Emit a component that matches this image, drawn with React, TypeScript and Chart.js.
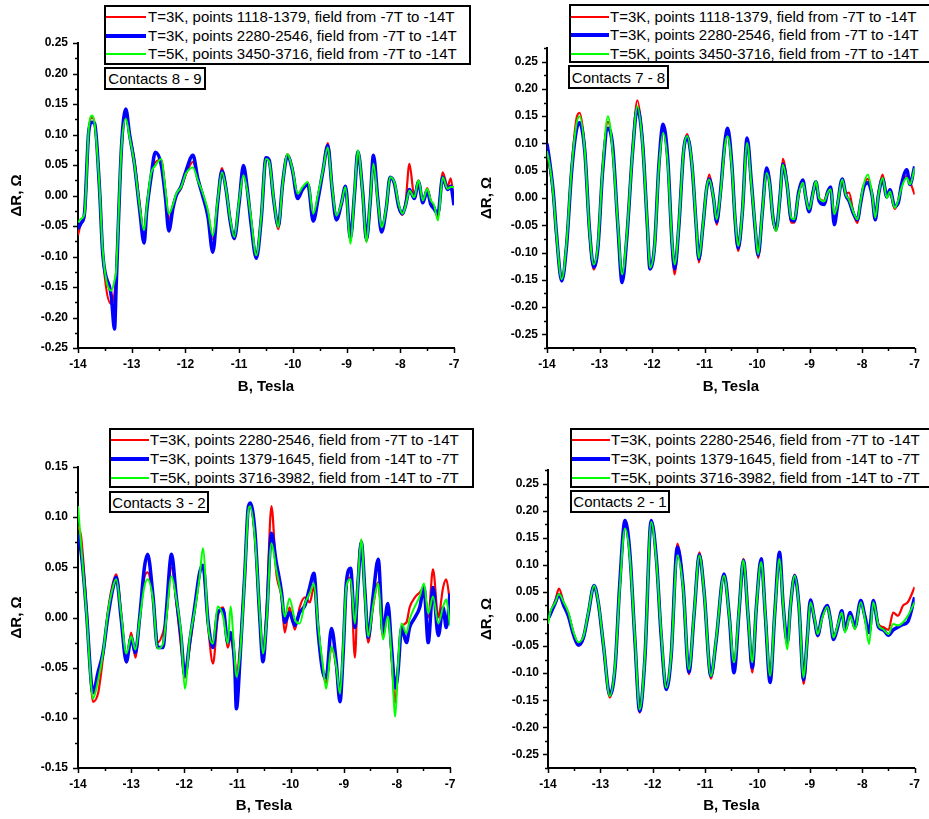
import React, { useEffect, useRef } from "react";
import { Chart, registerables } from "chart.js";
Chart.register(...registerables);

const FONT = "'Liberation Sans', Arial, Helvetica, sans-serif";

// ---------- tick labels ----------
const X_TICKS = [-14, -13, -12, -11, -10, -9, -8, -7];
const Y_TICKS_WIDE = [-0.25, -0.2, -0.15, -0.1, -0.05, 0, 0.05, 0.1, 0.15, 0.2, 0.25];
const Y_TICKS_NARROW = [-0.15, -0.1, -0.05, 0, 0.05, 0.1, 0.15];

// ---------- legend / annotation text ----------
const LEGEND_TOP = [
  "T=3K, points 1118-1379, field from -7T to -14T",
  "T=3K, points 2280-2546, field from -7T to -14T",
  "T=5K, points 3450-3716, field from -7T to -14T",
];
const LEGEND_BOTTOM = [
  "T=3K, points 2280-2546, field from -7T to -14T",
  "T=3K, points 1379-1645, field from -14T to -7T",
  "T=5K, points 3716-3982, field from -14T to -7T",
];
const CONTACTS = ["Contacts 8 - 9", "Contacts 7 - 8", "Contacts 3 - 2", "Contacts 2 - 1"];

// ---------- Panel 1: Contacts 8 - 9 ----------
const P1_B = [-14.00,-13.94,-13.88,-13.80,-13.74,-13.69,-13.60,-13.54,-13.38,-13.32,
 -13.29,-13.19,-13.11,-13.04,-12.95,-12.85,-12.77,-12.72,-12.64,-12.56,
 -12.45,-12.37,-12.31,-12.23,-12.17,-12.08,-11.99,-11.86,-11.77,-11.68,
 -11.58,-11.49,-11.40,-11.32,-11.24,-11.17,-11.09,-11.00,-10.92,-10.85,
 -10.78,-10.68,-10.59,-10.50,-10.44,-10.36,-10.27,-10.19,-10.10,-10.01,
 -9.91,-9.82,-9.72,-9.62,-9.53,-9.44,-9.35,-9.27,-9.19,-9.10,
 -9.02,-8.93,-8.85,-8.79,-8.70,-8.63,-8.56,-8.50,-8.42,-8.35,
 -8.26,-8.19,-8.11,-8.03,-7.96,-7.90,-7.83,-7.74,-7.66,-7.58,
 -7.50,-7.43,-7.37,-7.30,-7.21,-7.12,-7.06,-7.00];
const P1_GREEN = [-0.044,-0.038,-0.030,0.109,0.131,0.117,0.014,-0.090,-0.156,-0.139,
 -0.123,0.079,0.126,0.096,0.052,-0.019,-0.057,-0.019,0.036,0.049,
 0.060,0.008,-0.030,-0.014,0.003,0.014,0.036,0.046,0.025,0.005,
 -0.025,-0.066,-0.008,0.038,0.008,-0.036,-0.068,-0.008,0.033,0.008,
 -0.036,-0.098,-0.036,0.060,0.055,-0.003,-0.052,0.019,0.068,0.044,
 0.003,0.014,0.022,-0.030,0.003,0.041,0.079,0.014,-0.033,-0.014,
 0.014,-0.079,0.008,0.074,0.003,-0.077,-0.008,0.052,-0.008,-0.052,
 -0.019,0.030,0.022,-0.014,-0.030,-0.016,0.008,-0.003,0.025,-0.008,
 0.011,-0.008,-0.016,-0.041,0.030,0.011,0.014,0.014];
const P1_RED = [-0.065,-0.045,-0.035,0.105,0.128,0.118,0.015,-0.095,-0.178,-0.160,
 -0.125,0.075,0.130,0.100,0.058,-0.015,-0.068,-0.022,0.033,0.055,
 0.058,0.005,-0.040,-0.015,0.000,0.012,0.035,0.055,0.028,0.002,
 -0.030,-0.072,-0.010,0.045,0.010,-0.038,-0.072,-0.010,0.038,0.010,
 -0.040,-0.100,-0.035,0.062,0.055,-0.005,-0.055,0.018,0.068,0.045,
 -0.002,0.012,0.020,-0.038,0.000,0.040,0.086,0.015,-0.038,-0.015,
 0.012,-0.072,0.005,0.070,0.002,-0.075,-0.010,0.058,-0.005,-0.058,
 -0.020,0.028,0.020,-0.018,-0.032,-0.010,0.052,0.000,0.025,-0.010,
 0.012,-0.010,-0.018,-0.035,0.038,0.015,0.028,-0.012];
const P1_BLUE = [-0.055,-0.045,-0.030,0.105,0.120,0.118,0.012,-0.095,-0.165,-0.219,
 -0.150,0.080,0.142,0.100,0.052,-0.025,-0.078,-0.025,0.030,0.071,
 0.050,-0.005,-0.058,-0.020,0.000,0.015,0.040,0.066,0.028,0.000,
 -0.035,-0.093,-0.012,0.040,0.008,-0.040,-0.070,-0.012,0.049,0.012,
 -0.045,-0.103,-0.040,0.062,0.058,-0.005,-0.050,0.020,0.065,0.042,
 -0.005,0.010,0.018,-0.042,-0.005,0.040,0.082,0.012,-0.040,-0.015,
 0.015,-0.070,0.005,0.072,0.005,-0.072,-0.010,0.066,-0.005,-0.060,
 -0.020,0.030,0.020,-0.018,-0.030,-0.015,0.010,-0.005,0.022,-0.012,
 0.008,-0.015,-0.022,-0.030,0.030,0.010,0.015,-0.016];

// ---------- Panel 2: Contacts 7 - 8 ----------
const P2_B = [-14.00,-13.94,-13.88,-13.82,-13.72,-13.63,-13.53,-13.44,-13.38,-13.28,
 -13.19,-13.11,-13.03,-12.94,-12.84,-12.75,-12.65,-12.57,-12.48,-12.37,
 -12.28,-12.18,-12.09,-12.04,-11.95,-11.87,-11.79,-11.70,-11.62,-11.57,
 -11.49,-11.40,-11.33,-11.24,-11.16,-11.11,-11.03,-10.96,-10.91,-10.83,
 -10.77,-10.70,-10.61,-10.56,-10.48,-10.42,-10.36,-10.28,-10.19,-10.11,
 -10.04,-9.98,-9.90,-9.82,-9.76,-9.70,-9.64,-9.56,-9.51,-9.43,
 -9.35,-9.29,-9.21,-9.13,-9.07,-9.01,-8.94,-8.88,-8.82,-8.72,
 -8.66,-8.60,-8.53,-8.47,-8.38,-8.31,-8.25,-8.16,-8.09,-8.03,
 -7.97,-7.89,-7.81,-7.75,-7.69,-7.61,-7.53,-7.47,-7.38,-7.31,
 -7.25,-7.15,-7.09,-7.00];
const P2_GREEN = [0.086,0.055,0.006,-0.067,-0.149,-0.085,0.055,0.135,0.150,0.086,
 -0.061,-0.122,-0.085,0.055,0.150,0.086,-0.049,-0.140,-0.067,0.086,
 0.168,0.098,-0.049,-0.128,-0.085,0.055,0.119,0.061,-0.079,-0.122,
 -0.049,0.086,0.113,0.061,-0.049,-0.110,-0.049,0.019,0.034,0.000,
 -0.039,0.006,0.098,0.113,0.055,-0.036,-0.088,-0.024,0.101,0.025,
 -0.049,-0.103,-0.024,0.046,0.025,-0.036,-0.061,0.006,0.061,0.025,
 -0.036,-0.039,0.006,0.028,0.000,-0.021,0.006,0.031,0.000,-0.006,
 0.009,0.016,-0.030,-0.012,0.034,0.006,-0.003,-0.027,-0.039,-0.006,
 0.025,0.043,0.006,-0.036,0.006,0.037,0.000,0.012,-0.018,-0.003,
 0.019,0.037,0.025,0.055];
const P2_RED = [0.085,0.050,0.005,-0.070,-0.150,-0.088,0.058,0.145,0.156,0.090,
 -0.065,-0.131,-0.090,0.055,0.140,0.090,-0.050,-0.150,-0.070,0.090,
 0.179,0.105,-0.050,-0.130,-0.088,0.055,0.125,0.065,-0.085,-0.140,
 -0.050,0.085,0.117,0.062,-0.052,-0.118,-0.050,0.020,0.043,-0.002,
 -0.049,0.005,0.100,0.118,0.058,-0.040,-0.097,-0.025,0.105,0.025,
 -0.055,-0.110,-0.025,0.050,0.025,-0.038,-0.060,0.008,0.072,0.028,
 -0.045,-0.045,0.006,0.030,0.000,-0.025,0.010,0.030,0.000,-0.005,
 0.012,0.018,-0.040,-0.010,0.030,0.008,0.010,-0.030,-0.046,-0.008,
 0.022,0.035,0.005,-0.035,0.010,0.043,0.005,0.010,-0.020,-0.005,
 0.025,0.040,0.030,0.006];
const P2_BLUE = [0.100,0.060,0.010,-0.065,-0.152,-0.090,0.050,0.125,0.138,0.085,
 -0.060,-0.127,-0.090,0.050,0.128,0.095,-0.052,-0.155,-0.072,0.085,
 0.165,0.100,-0.050,-0.130,-0.085,0.060,0.135,0.070,-0.082,-0.130,
 -0.052,0.085,0.112,0.060,-0.050,-0.112,-0.050,0.018,0.035,0.000,
 -0.044,0.008,0.105,0.128,0.060,-0.038,-0.092,-0.025,0.110,0.030,
 -0.052,-0.105,-0.025,0.055,0.028,-0.035,-0.058,0.006,0.062,0.025,
 -0.040,-0.042,0.010,0.033,0.000,-0.025,0.008,0.030,-0.005,-0.012,
 0.010,0.020,-0.049,-0.015,0.035,0.005,-0.005,-0.030,-0.040,-0.010,
 0.020,0.028,0.005,-0.040,0.005,0.035,0.002,0.015,-0.015,-0.008,
 0.025,0.052,0.025,0.058];

// ---------- Panel 3: Contacts 3 - 2 ----------
const P3_B = [-14.00,-13.94,-13.84,-13.75,-13.72,-13.62,-13.53,-13.44,-13.34,-13.28,
 -13.19,-13.09,-13.00,-12.92,-12.84,-12.75,-12.69,-12.59,-12.50,-12.40,
 -12.34,-12.24,-12.15,-12.06,-11.99,-11.90,-11.80,-11.71,-11.65,-11.55,
 -11.46,-11.37,-11.27,-11.18,-11.13,-11.05,-11.02,-10.95,-10.86,-10.80,
 -10.76,-10.67,-10.58,-10.52,-10.45,-10.36,-10.27,-10.17,-10.11,-10.02,
 -9.92,-9.83,-9.73,-9.64,-9.56,-9.48,-9.39,-9.33,-9.23,-9.14,
 -9.07,-9.01,-8.95,-8.87,-8.79,-8.73,-8.67,-8.60,-8.54,-8.45,
 -8.35,-8.26,-8.17,-8.10,-8.03,-7.98,-7.91,-7.82,-7.76,-7.66,
 -7.57,-7.49,-7.41,-7.32,-7.22,-7.13,-7.07,-7.00];
const P3_GREEN = [0.111,0.071,0.004,-0.069,-0.081,-0.062,-0.036,0.004,0.031,0.038,
 0.004,-0.036,-0.019,-0.032,-0.002,0.031,0.038,0.018,-0.031,-0.026,
 -0.002,0.041,0.018,-0.016,-0.071,-0.022,0.008,0.041,0.069,-0.009,
 -0.026,0.011,0.001,-0.026,0.011,-0.042,-0.059,-0.036,0.044,0.104,
 0.111,0.078,0.004,-0.036,-0.002,0.074,0.048,0.021,0.001,0.019,
 -0.002,-0.006,0.014,0.024,0.034,-0.009,-0.049,-0.071,-0.029,-0.049,
 -0.076,-0.029,0.031,0.038,-0.006,0.038,0.078,0.021,-0.019,0.011,
 0.034,-0.022,0.001,-0.039,-0.099,-0.049,-0.006,-0.016,-0.002,0.011,
 0.021,0.034,0.004,0.021,-0.006,0.011,0.018,-0.008];
const P3_RED = [0.091,0.080,0.010,-0.070,-0.084,-0.075,-0.040,0.005,0.035,0.043,
 0.005,-0.045,-0.015,-0.040,0.000,0.040,0.045,0.020,-0.025,-0.015,
 0.000,0.050,0.015,-0.030,-0.060,-0.030,0.010,0.045,0.050,-0.010,
 -0.046,0.000,0.010,-0.030,-0.020,-0.045,-0.058,-0.028,0.045,0.105,
 0.112,0.080,0.000,-0.035,0.010,0.111,0.045,0.020,-0.015,0.010,
 -0.012,0.010,0.020,0.015,0.030,-0.010,-0.055,-0.065,-0.030,-0.050,
 -0.084,-0.030,0.030,0.040,-0.040,0.040,0.077,0.020,-0.025,0.010,
 0.035,-0.020,0.010,-0.040,-0.085,-0.050,-0.010,-0.005,0.010,0.020,
 0.025,0.030,0.000,0.048,0.000,0.030,0.038,0.015];
const P3_BLUE = [0.083,0.065,0.005,-0.065,-0.075,-0.054,-0.035,0.000,0.030,0.040,
 0.000,-0.044,-0.020,-0.035,0.000,0.050,0.063,0.022,-0.030,-0.030,
 0.005,0.063,0.020,-0.020,-0.058,-0.025,0.012,0.045,0.052,-0.005,
 -0.030,0.005,0.008,-0.025,-0.015,-0.050,-0.091,-0.040,0.045,0.108,
 0.114,0.085,0.000,-0.044,0.000,0.084,0.055,0.025,-0.005,0.005,
 -0.008,0.005,0.012,0.030,0.044,-0.015,-0.055,-0.060,-0.011,-0.045,
 -0.084,-0.035,0.035,0.049,-0.010,0.035,0.075,0.025,-0.020,0.020,
 0.058,-0.015,0.014,-0.030,-0.070,-0.055,-0.010,-0.025,-0.010,0.000,
 0.010,0.030,-0.025,0.030,-0.018,0.010,-0.010,0.024];

// ---------- Panel 4: Contacts 2 - 1 ----------
const P4_B = [-14.00,-13.96,-13.86,-13.79,-13.70,-13.61,-13.51,-13.42,-13.32,-13.23,
 -13.12,-13.04,-12.94,-12.82,-12.72,-12.63,-12.53,-12.44,-12.34,-12.25,
 -12.15,-12.03,-11.93,-11.84,-11.74,-11.65,-11.53,-11.42,-11.31,-11.21,
 -11.11,-11.02,-10.89,-10.79,-10.64,-10.54,-10.45,-10.35,-10.27,-10.18,
 -10.10,-10.02,-9.93,-9.85,-9.76,-9.67,-9.58,-9.51,-9.43,-9.37,
 -9.29,-9.21,-9.12,-9.05,-8.99,-8.91,-8.85,-8.77,-8.67,-8.61,
 -8.55,-8.47,-8.39,-8.33,-8.23,-8.14,-8.03,-7.95,-7.87,-7.79,
 -7.69,-7.60,-7.50,-7.41,-7.32,-7.22,-7.13,-7.00];
const P4_GREEN = [-0.009,0.012,0.031,0.046,0.031,0.012,-0.025,-0.043,-0.031,0.012,
 0.062,0.031,-0.049,-0.142,-0.086,0.056,0.167,0.117,-0.037,-0.167,
 -0.068,0.179,0.105,-0.025,-0.127,-0.068,0.117,0.056,-0.093,0.012,
 0.117,0.049,-0.105,-0.037,0.080,0.006,-0.080,0.019,0.108,0.006,
 -0.080,0.025,0.105,0.006,-0.105,0.012,0.111,0.025,-0.056,0.025,
 0.080,0.025,-0.108,-0.037,0.031,0.000,-0.028,0.000,0.022,0.000,
 -0.034,-0.012,0.012,-0.025,0.006,-0.019,0.031,0.000,-0.046,0.031,
 -0.012,-0.019,-0.028,-0.009,-0.012,-0.006,0.006,0.031];
const P4_RED = [-0.005,0.010,0.035,0.056,0.030,0.010,-0.030,-0.049,-0.035,0.012,
 0.062,0.030,-0.050,-0.145,-0.090,0.060,0.175,0.120,-0.040,-0.173,
 -0.070,0.180,0.108,-0.028,-0.130,-0.070,0.139,0.060,-0.102,0.012,
 0.123,0.050,-0.110,-0.040,0.080,0.005,-0.090,0.020,0.111,0.005,
 -0.099,0.025,0.108,0.005,-0.115,0.012,0.120,0.025,-0.045,0.025,
 0.082,0.025,-0.120,-0.040,0.030,-0.005,-0.032,0.002,0.020,0.000,
 -0.035,-0.012,0.015,-0.022,0.010,-0.018,0.035,0.005,-0.025,0.032,
 -0.010,-0.015,-0.020,0.012,0.006,0.025,0.031,0.059];
const P4_BLUE = [0.000,0.008,0.030,0.045,0.025,0.005,-0.030,-0.048,-0.033,0.010,
 0.062,0.030,-0.050,-0.140,-0.090,0.065,0.182,0.125,-0.040,-0.170,
 -0.072,0.182,0.110,-0.030,-0.130,-0.070,0.133,0.060,-0.098,0.010,
 0.118,0.050,-0.105,-0.040,0.083,0.006,-0.099,0.018,0.108,0.005,
 -0.090,0.025,0.111,0.005,-0.117,0.012,0.123,0.025,-0.043,0.025,
 0.080,0.025,-0.112,-0.035,0.035,-0.002,-0.030,0.005,0.025,0.000,
 -0.038,-0.015,0.015,-0.020,0.012,-0.015,0.034,0.005,-0.025,0.034,
 -0.015,-0.020,-0.030,-0.020,-0.015,-0.010,-0.005,0.040];

// ---------- series styling ----------
const SERIES_STYLE = [
  { color: "#ff0000", line: 2.2, legend: 2.5 },
  { color: "#0000ff", line: 3.5, legend: 4 },
  { color: "#00ff00", line: 2, legend: 2 },
];

// plugin drawing major + minor tick marks outward
const tickMarks = {
  id: "tickMarks",
  afterDraw(chart: any, _args: any, opts: any) {
    const { ctx, chartArea } = chart;
    const xs = chart.scales.x;
    const ys = chart.scales.y;
    const build = (majors: number[], min: number, max: number) => {
      const step = majors[1] - majors[0];
      const half = step / 2;
      const out: { v: number; major: boolean }[] = [];
      majors.forEach((m) => out.push({ v: m, major: true }));
      const cands = [majors[0] - half, ...majors.map((m) => m + half)];
      cands.forEach((c) => {
        if (c >= min - 1e-9 && c <= max + 1e-9) out.push({ v: c, major: false });
      });
      return out;
    };
    ctx.save();
    ctx.strokeStyle = "#000";
    ctx.lineWidth = 1.5;
    ctx.beginPath();
    build(opts.xMajor, xs.min, xs.max).forEach((t) => {
      const p = Math.round(xs.getPixelForValue(t.v)) + 0.5;
      const len = t.major ? 5 : 3;
      ctx.moveTo(p, chartArea.bottom);
      ctx.lineTo(p, chartArea.bottom + len);
    });
    build(opts.yMajor, ys.min, ys.max).forEach((t) => {
      const p = Math.round(ys.getPixelForValue(t.v)) + 0.5;
      const len = t.major ? 5 : 3;
      ctx.moveTo(chartArea.left, p);
      ctx.lineTo(chartArea.left - len, p);
    });
    ctx.stroke();
    ctx.restore();
  },
};

type PanelProps = {
  left: number; top: number; width: number; height: number;
  padTop: number; padRight: number; yW: number; xH: number; titlePB: number; labelPad: number;
  yMin: number; yMax: number; yTicks: number[];
  b: number[]; red: number[]; blue: number[]; green: number[];
};

function Panel(p: PanelProps) {
  const ref = useRef<HTMLCanvasElement | null>(null);
  useEffect(() => {
    if (!ref.current) return;
    const mk = (ys: number[]) => p.b.map((x, i) => ({ x, y: ys[i] }));
    const chart = new Chart(ref.current, {
      type: "line",
      data: {
        datasets: [
          { label: "green", data: mk(p.green), borderColor: SERIES_STYLE[2].color, borderWidth: SERIES_STYLE[2].line, order: 1 },
          { label: "blue", data: mk(p.blue), borderColor: SERIES_STYLE[1].color, borderWidth: SERIES_STYLE[1].line, order: 2 },
          { label: "red", data: mk(p.red), borderColor: SERIES_STYLE[0].color, borderWidth: SERIES_STYLE[0].line, order: 3 },
        ],
      },
      options: {
        animation: false,
        responsive: false,
        devicePixelRatio: 1,
        events: [],
        layout: { padding: { left: 0, top: p.padTop, right: p.padRight, bottom: 0 } },
        elements: {
          point: { radius: 0 },
          line: { cubicInterpolationMode: "monotone", fill: false },
        },
        plugins: {
          legend: { display: false },
          tooltip: { enabled: false },
          tickMarks: { xMajor: X_TICKS, yMajor: p.yTicks },
        } as any,
        scales: {
          x: {
            type: "linear",
            min: -14,
            max: -7,
            afterBuildTicks: (s: any) => { s.ticks = X_TICKS.map((v) => ({ value: v })); },
            afterFit: (s: any) => { s.height = p.xH; },
            grid: { display: false, drawTicks: false },
            border: { display: true, color: "#000", width: 2 },
            ticks: {
              autoSkip: false, maxRotation: 0, padding: 9, color: "#000",
              font: { family: FONT, size: 12, weight: "bold" },
              callback: (v: any) => String(Number(v)),
            },
            title: {
              display: true, text: "B, Tesla", color: "#000",
              font: { family: FONT, size: 15, weight: "bold" },
              padding: { top: 0, bottom: p.titlePB },
            },
          },
          y: {
            type: "linear",
            min: p.yMin,
            max: p.yMax,
            afterBuildTicks: (s: any) => { s.ticks = p.yTicks.map((v) => ({ value: v })); },
            afterFit: (s: any) => { s.width = p.yW; },
            grid: { display: false, drawTicks: false },
            border: { display: true, color: "#000", width: 2 },
            ticks: {
              autoSkip: false, padding: p.labelPad, color: "#000",
              font: { family: FONT, size: 12, weight: "bold" },
              callback: (v: any) => Number(v).toFixed(2),
            },
            title: {
              display: true, text: "ΔR, Ω", color: "#000",
              font: { family: FONT, size: 15, weight: "bold" },
              padding: { top: 8, bottom: 0 },
            },
          },
        },
      } as any,
      plugins: [tickMarks],
    });
    return () => chart.destroy();
  }, []);
  return (
    <canvas
      ref={ref}
      width={p.width}
      height={p.height}
      style={{ position: "absolute", left: p.left, top: p.top, width: p.width, height: p.height }}
    />
  );
}

type LegendProps = {
  left: number; top: number; width: number; height: number;
  rowYs: number[]; sampleW: number; textX: number; labels: string[];
};

function Legend(l: LegendProps) {
  return (
    <div
      style={{
        position: "absolute", left: l.left, top: l.top, width: l.width, height: l.height,
        border: "2px solid #000", boxSizing: "border-box", background: "#fff", zIndex: 2,
      }}
    >
      {l.labels.map((lab, i) => (
        <React.Fragment key={i}>
          <div
            style={{
              position: "absolute", left: 0, top: l.rowYs[i] - SERIES_STYLE[i].legend / 2,
              width: l.sampleW, height: SERIES_STYLE[i].legend, background: SERIES_STYLE[i].color,
            }}
          />
          <span
            style={{
              position: "absolute", left: l.textX, top: l.rowYs[i] - 9, lineHeight: "18px",
              fontFamily: FONT, fontSize: 15, color: "#000", whiteSpace: "nowrap",
            }}
          >
            {lab}
          </span>
        </React.Fragment>
      ))}
    </div>
  );
}

function Tag({ left, top, width, height, text }: { left: number; top: number; width: number; height: number; text: string }) {
  return (
    <div
      style={{
        position: "absolute", left, top, width, height, border: "2px solid #000", boxSizing: "border-box",
        background: "#fff", zIndex: 2, fontFamily: FONT, fontSize: 15, color: "#000",
        display: "flex", alignItems: "center", justifyContent: "center", whiteSpace: "nowrap",
      }}
    >
      {text}
    </div>
  );
}

export default function App() {
  return (
    <div style={{ position: "absolute", left: 0, top: 0, width: 929, height: 819, overflow: "hidden", background: "#fff" }}>
      <Panel left={0} top={0} width={470} height={410} padTop={43} padRight={16} yW={78} xH={62} titlePB={14} labelPad={10}
        yMin={-0.25} yMax={0.25} yTicks={Y_TICKS_WIDE} b={P1_B} red={P1_RED} blue={P1_BLUE} green={P1_GREEN} />
      <Panel left={470} top={0} width={459} height={410} padTop={48} padRight={11} yW={77} xH={62} titlePB={14} labelPad={9}
        yMin={-0.275} yMax={0.275} yTicks={Y_TICKS_WIDE} b={P2_B} red={P2_RED} blue={P2_BLUE} green={P2_GREEN} />
      <Panel left={0} top={410} width={470} height={409} padTop={57} padRight={20} yW={78} xH={51} titlePB={4} labelPad={10}
        yMin={-0.15} yMax={0.15} yTicks={Y_TICKS_NARROW} b={P3_B} red={P3_RED} blue={P3_BLUE} green={P3_GREEN} />
      <Panel left={470} top={410} width={459} height={409} padTop={60} padRight={12} yW={78} xH={51} titlePB={4} labelPad={9}
        yMin={-0.275} yMax={0.275} yTicks={Y_TICKS_WIDE} b={P4_B} red={P4_RED} blue={P4_BLUE} green={P4_GREEN} />

      <Legend left={104} top={5} width={367} height={60} rowYs={[10, 29, 47]} sampleW={40} textX={42} labels={LEGEND_TOP} />
      <Legend left={569} top={4} width={364} height={59} rowYs={[11, 29, 48]} sampleW={38} textX={39} labels={LEGEND_TOP} />
      <Legend left={109} top={428} width={365} height={60} rowYs={[10, 29, 48]} sampleW={38} textX={39} labels={LEGEND_BOTTOM} />
      <Legend left={570} top={428} width={364} height={60} rowYs={[10, 29, 48]} sampleW={38} textX={39} labels={LEGEND_BOTTOM} />

      <Tag left={104} top={67} width={102} height={23} text={CONTACTS[0]} />
      <Tag left={568} top={65} width={101} height={24} text={CONTACTS[1]} />
      <Tag left={109} top={491} width={100} height={22} text={CONTACTS[2]} />
      <Tag left={570} top={490} width={100} height={23} text={CONTACTS[3]} />
    </div>
  );
}
